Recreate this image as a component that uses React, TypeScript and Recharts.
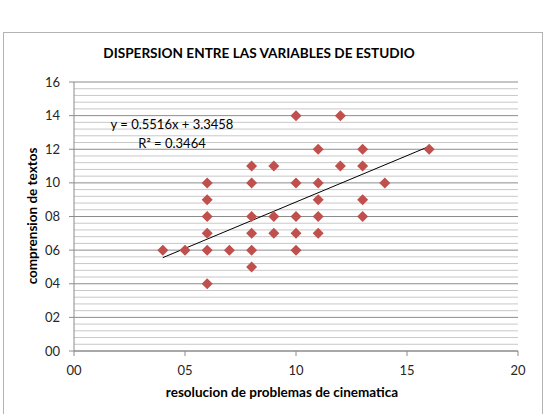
import React from "react";
import {
  ScatterChart,
  Scatter,
  XAxis,
  YAxis,
  CartesianGrid,
  ReferenceLine,
} from "recharts";

// resolucion de problemas de cinematica (x) vs comprension de textos (y)
const cinematica = [4, 5, 6, 6, 6, 6, 6, 6, 7, 8, 8, 8, 8, 8, 8, 9, 9, 9, 10, 10, 10, 10, 10, 11, 11, 11, 11, 11, 12, 12, 13, 13, 13, 13, 14, 16];
const textos = [6, 6, 10, 9, 8, 7, 6, 4, 6, 11, 10, 8, 7, 6, 5, 11, 8, 7, 14, 10, 8, 7, 6, 12, 10, 9, 8, 7, 14, 11, 12, 11, 9, 8, 10, 12];

const xTicks = [0, 5, 10, 15, 20];
const yTicks = [0, 2, 4, 6, 8, 10, 12, 14, 16];
const minorGrid = [0.4, 0.8, 1.2, 1.6, 2.4, 2.8, 3.2, 3.6, 4.4, 4.8, 5.2, 5.6, 6.4, 6.8, 7.2, 7.6, 8.4, 8.8, 9.2, 9.6, 10.4, 10.8, 11.2, 11.6, 12.4, 12.8, 13.2, 13.6, 14.4, 14.8, 15.2, 15.6];

// linear trendline as reported on the chart
const SLOPE = 0.5516;
const INTERCEPT = 3.3458;
const R2 = 0.3464;
const trendFrom = 4;
const trendTo = 16;

const points = cinematica.map((x, i) => ({ x, y: textos[i] }));

const FONT = "Lato, 'Open Sans', sans-serif";
const Y_MAX = 16;
const pad2 = (v: number) => String(v).padStart(2, "0");

const Diamond = (props: any) => {
  const { cx, cy } = props;
  const r = 5.5;
  return (
    <path
      d={`M${cx},${cy - r}L${cx + r},${cy}L${cx},${cy + r}L${cx - r},${cy}Z`}
      fill="#C0504D"
    />
  );
};

// minor gridlines sit between the labelled ticks
const minorLines = ({ yAxis, offset }: any) =>
  minorGrid.map((v) =>
    yAxis && typeof yAxis.scale === "function"
      ? yAxis.scale(v)
      : offset.top + offset.height * (1 - v / Y_MAX)
  );

export default function App() {
  const tickStyle = { fontSize: 13, fill: "#262626", fontFamily: FONT };
  return (
    <div
      style={{
        position: "absolute",
        left: 0,
        top: 0,
        width: 550,
        height: 414,
        background: "#fff",
        overflow: "hidden",
        fontFamily: FONT,
      }}
    >
      <div
        style={{
          position: "absolute",
          left: 3,
          top: 32,
          width: 538,
          height: 420,
          border: "1px solid #b3b3b3",
        }}
      />
      <div
        style={{
          position: "absolute",
          top: 45,
          left: 0,
          width: 518,
          textAlign: "center",
          fontWeight: 700,
          fontSize: 13.6,
          color: "#000",
        }}
      >
        DISPERSION ENTRE LAS VARIABLES DE ESTUDIO
      </div>
      <ScatterChart
        width={550}
        height={414}
        margin={{ top: 82, right: 32, bottom: 0, left: 0 }}
        style={{ position: "absolute", left: 0, top: 0 }}
      >
        <CartesianGrid
          vertical={false}
          horizontalCoordinatesGenerator={minorLines}
          stroke="#c8c8c8"
        />
        <CartesianGrid vertical={false} stroke="#8c8c8c" />
        <XAxis
          type="number"
          dataKey="x"
          domain={[0, 20]}
          ticks={xTicks}
          tickFormatter={pad2}
          height={63}
          stroke="#8c8c8c"
          tickSize={5}
          tick={tickStyle}
          tickMargin={10}
        />
        <YAxis
          type="number"
          dataKey="y"
          domain={[0, Y_MAX]}
          ticks={yTicks}
          tickFormatter={pad2}
          width={74}
          stroke="#8c8c8c"
          tickSize={5}
          tick={tickStyle}
          tickMargin={9}
        />
        <ReferenceLine
          segment={[
            { x: trendFrom, y: SLOPE * trendFrom + INTERCEPT },
            { x: trendTo, y: SLOPE * trendTo + INTERCEPT },
          ]}
          stroke="#000"
          strokeWidth={1}
        />
        <Scatter data={points} shape={<Diamond />} isAnimationActive={false} />
      </ScatterChart>
      <div
        style={{
          position: "absolute",
          left: 72,
          top: 115,
          width: 200,
          textAlign: "center",
          fontSize: 13,
          lineHeight: "19px",
          color: "#000",
        }}
      >
        <div>y = {SLOPE}x + {INTERCEPT}</div>
        <div>
          R² = {R2}
        </div>
      </div>
      <div
        style={{
          position: "absolute",
          left: 74,
          top: 384,
          width: 416,
          textAlign: "center",
          fontWeight: 700,
          fontSize: 13.5,
          color: "#000",
        }}
      >
        resolucion de problemas de cinematica
      </div>
      <div
        style={{
          position: "absolute",
          left: 32,
          top: 216,
          transform: "translate(-50%, -50%) rotate(-90deg)",
          whiteSpace: "nowrap",
          fontWeight: 700,
          fontSize: 13.5,
          color: "#000",
        }}
      >
        comprension de textos
      </div>
    </div>
  );
}
